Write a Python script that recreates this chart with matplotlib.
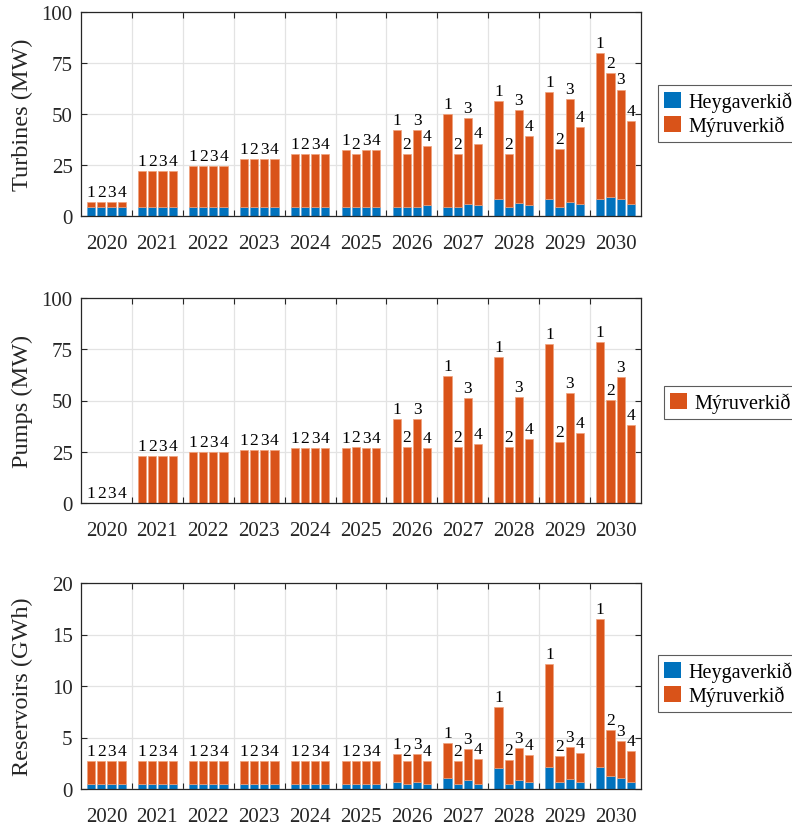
import matplotlib
matplotlib.use("Agg")
import matplotlib.pyplot as plt
import numpy as np
from matplotlib.patches import Patch
from matplotlib.ticker import FixedLocator, NullFormatter, FixedFormatter

plt.rcParams['font.family'] = ['Liberation Serif', 'DejaVu Serif']

years = ['2020', '2021', '2022', '2023', '2024', '2025',
         '2026', '2027', '2028', '2029', '2030']
scenarios = ['1', '2', '3', '4']
series_names = ['Heygaverkið', 'Mýruverkið']

# Installed turbine capacity (MW): total per year and scenario, and the Heygaverkið share
turbines_total = [
    [7.0, 7.0, 7.0, 7.0],
    [22.2, 22.2, 22.2, 22.2],
    [24.3, 24.3, 24.3, 24.3],
    [28.1, 28.1, 28.1, 28.1],
    [30.2, 30.2, 30.2, 30.2],
    [32.4, 30.2, 32.4, 32.4],
    [42.0, 30.2, 42.0, 34.2],
    [50.1, 30.2, 47.9, 35.5],
    [56.2, 30.2, 52.1, 39.3],
    [60.8, 32.9, 57.3, 43.7],
    [80.0, 70.3, 62.0, 46.6],
]
turbines_hey = [
    [4.5, 4.5, 4.5, 4.5],
    [4.5, 4.5, 4.5, 4.5],
    [4.5, 4.5, 4.5, 4.5],
    [4.5, 4.5, 4.5, 4.5],
    [4.5, 4.5, 4.5, 4.5],
    [4.5, 4.5, 4.5, 4.5],
    [4.5, 4.5, 4.5, 5.3],
    [4.5, 4.5, 6.1, 5.3],
    [8.1, 4.5, 6.5, 5.5],
    [8.3, 4.5, 6.8, 6.1],
    [8.3, 9.4, 8.1, 6.1],
]

# Pump capacity (MW), Mýruverkið only
pumps_myr = [
    [0.0, 0.0, 0.0, 0.0],
    [22.7, 22.7, 22.7, 22.7],
    [24.7, 24.7, 24.7, 24.7],
    [25.7, 25.7, 25.7, 25.7],
    [26.6, 26.6, 26.6, 26.6],
    [27.0, 27.3, 27.0, 27.0],
    [41.1, 27.3, 41.1, 27.0],
    [62.0, 27.3, 51.0, 28.8],
    [71.4, 27.3, 51.9, 31.4],
    [77.6, 29.8, 53.7, 34.1],
    [78.7, 50.2, 61.3, 37.9],
]

# Reservoir storage (GWh): total and Heygaverkið share
reservoirs_total = [
    [2.75, 2.75, 2.75, 2.75],
    [2.75, 2.75, 2.75, 2.75],
    [2.75, 2.75, 2.75, 2.75],
    [2.75, 2.75, 2.75, 2.75],
    [2.75, 2.75, 2.75, 2.75],
    [2.75, 2.75, 2.75, 2.75],
    [3.40, 2.75, 3.40, 2.75],
    [4.47, 2.75, 3.85, 2.91],
    [7.93, 2.82, 3.98, 3.27],
    [12.16, 3.20, 4.10, 3.50],
    [16.50, 5.70, 4.66, 3.69],
]
reservoirs_hey = [
    [0.50, 0.50, 0.50, 0.50],
    [0.50, 0.50, 0.50, 0.50],
    [0.50, 0.50, 0.50, 0.50],
    [0.50, 0.50, 0.50, 0.50],
    [0.50, 0.50, 0.50, 0.50],
    [0.50, 0.50, 0.50, 0.50],
    [0.71, 0.50, 0.71, 0.50],
    [1.04, 0.50, 0.84, 0.50],
    [2.00, 0.52, 0.84, 0.65],
    [2.13, 0.65, 0.94, 0.65],
    [2.13, 1.23, 1.10, 0.71],
]

BLUE = '#0072BD'
ORANGE = '#D95319'
BLUE_EDGE = '#5fa3d6'
ORANGE_EDGE = '#f0a27c'
AX_COLOR = '#262626'

fig = plt.figure(figsize=(7.92, 8.29), dpi=100)

W = 560 / 792
L = 81 / 792
axes_rects = [
    [L, 1 - 217 / 829, W, 204 / 829],
    [L, 1 - 504 / 829, W, 205 / 829],
    [L, 1 - 790 / 829, W, 206 / 829],
]

group_x = np.arange(1, len(years) + 1)
offsets = np.array([-0.3, -0.1, 0.1, 0.3])
bar_w = 0.16


def style_axes(ax, ymax, yticks, ylabel):
    ax.set_xlim(0.5, len(years) + 0.5)
    ax.set_ylim(0, ymax)
    # group boundaries carry the grid; year names sit at the group centres
    ax.xaxis.set_major_locator(FixedLocator(np.arange(1.5, len(years), 1.0)))
    ax.xaxis.set_major_formatter(NullFormatter())
    ax.xaxis.set_minor_locator(FixedLocator(group_x))
    ax.xaxis.set_minor_formatter(FixedFormatter(years))
    ax.set_yticks(yticks)
    ax.set_yticklabels([str(t) for t in yticks])
    ax.tick_params(axis='both', which='major', direction='in', length=4,
                   width=0.8, color=AX_COLOR, top=True, right=True,
                   labelsize=15, labelcolor=AX_COLOR, pad=6)
    ax.tick_params(axis='x', which='minor', length=0, labelsize=15,
                   labelcolor=AX_COLOR, pad=13)
    ax.grid(True, which='major', color='#e3e3e3', linewidth=0.9)
    ax.set_axisbelow(True)
    for s in ax.spines.values():
        s.set_color(AX_COLOR)
        s.set_linewidth(0.9)
    ax.set_ylabel(ylabel, fontsize=17.5, color=AX_COLOR)
    ax.yaxis.set_label_coords(-0.085, 0.5)


def label_bars(ax, tops):
    for gi, gx in enumerate(group_x):
        for si, off in enumerate(offsets):
            ax.annotate(scenarios[si], (gx + off, tops[gi][si]),
                        xytext=(0, 1.5), textcoords='offset points',
                        ha='center', va='bottom', fontsize=12.5, color='black')


def stacked(ax, hey, total):
    hey = np.asarray(hey)
    total = np.asarray(total)
    for si, off in enumerate(offsets):
        ax.bar(group_x + off, hey[:, si], width=bar_w, color=BLUE,
               edgecolor=BLUE_EDGE, linewidth=0.5)
        ax.bar(group_x + off, total[:, si] - hey[:, si], bottom=hey[:, si],
               width=bar_w, color=ORANGE, edgecolor=ORANGE_EDGE, linewidth=0.5)


def add_legend(names, colors, top_px, left_px):
    handles = [Patch(facecolor=c, edgecolor='none') for c in colors]
    leg = fig.legend(handles, names, loc='upper left',
                     bbox_to_anchor=(left_px / 792, 1 - top_px / 829),
                     fontsize=14.5, frameon=True, fancybox=False,
                     handlelength=0.85, handleheight=0.85, handletextpad=0.35,
                     borderpad=0.3, labelspacing=0.2, borderaxespad=0)
    frame = leg.get_frame()
    frame.set_edgecolor('#333333')
    frame.set_linewidth(0.8)
    return leg


# Turbines
ax1 = fig.add_axes(axes_rects[0])
stacked(ax1, turbines_hey, turbines_total)
label_bars(ax1, turbines_total)
style_axes(ax1, 100, [0, 25, 50, 75, 100], 'Turbines (MW)')
add_legend(series_names, [BLUE, ORANGE], 86, 658)

# Pumps
ax2 = fig.add_axes(axes_rects[1])
pumps = np.asarray(pumps_myr)
for si, off in enumerate(offsets):
    ax2.bar(group_x + off, pumps[:, si], width=bar_w, color=ORANGE,
            edgecolor=ORANGE_EDGE, linewidth=0.5)
label_bars(ax2, pumps_myr)
style_axes(ax2, 100, [0, 25, 50, 75, 100], 'Pumps (MW)')
add_legend([series_names[1]], [ORANGE], 387, 664)

# Reservoirs
ax3 = fig.add_axes(axes_rects[2])
stacked(ax3, reservoirs_hey, reservoirs_total)
label_bars(ax3, reservoirs_total)
style_axes(ax3, 20, [0, 5, 10, 15, 20], 'Reservoirs (GWh)')
add_legend(series_names, [BLUE, ORANGE], 656, 658)

fig.savefig('out.png', dpi=100)
